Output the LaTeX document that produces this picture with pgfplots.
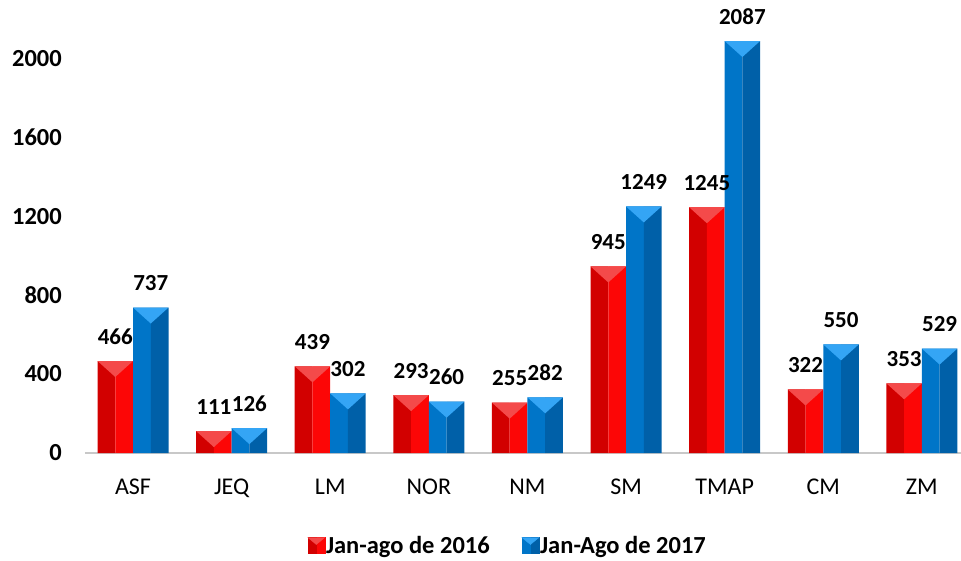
\documentclass[border=0pt]{standalone}
\usepackage{fontspec}
\setmainfont{Carlito}
\usepackage{pgfplots}
\usepackage{pgfplotstable}
\pgfplotsset{compat=1.18}
\definecolor{redL}{RGB}{210,0,0}
\definecolor{redR}{RGB}{252,6,6}
\definecolor{redT}{RGB}{244,74,74}
\definecolor{bluL}{RGB}{0,117,200}
\definecolor{bluR}{RGB}{0,96,168}
\definecolor{bluT}{RGB}{52,165,245}
\definecolor{axgray}{RGB}{200,200,200}
\pgfdeclareplotmark{bevtop}{%
  \pgfpathmoveto{\pgfqpoint{-17.75pt}{0pt}}%
  \pgfpathlineto{\pgfqpoint{17.75pt}{0pt}}%
  \pgfpathlineto{\pgfqpoint{0pt}{-16pt}}%
  \pgfpathclose\pgfusepathqfill}
\pgfplotstableread{
x a b
0 466 737
1 111 126
2 439 302
3 293 260
4 255 282
5 945 1249
6 1245 2087
7 322 550
8 353 529
}\data
\begin{document}
\begin{tikzpicture}
\useasboundingbox (-85pt,-107pt) rectangle (876pt,453pt);
\begin{axis}[
  scale only axis, width=876pt, height=434.3pt,
  xmin=-0.487, xmax=8.397, ymin=0, ymax=2200,
  clip=false,
  axis x line*=bottom, axis y line*=left,
  x axis line style={draw=axgray, line width=1.5pt, -},
  y axis line style={draw=none},
  major tick length=0pt,
  ytick={0,400,...,2000},
  xtick={0,...,8},
  xticklabels={ASF,JEQ,LM,NOR,NM,SM,TMAP,CM,ZM},
  /pgf/number format/assume math mode=true,
  /pgf/number format/1000 sep={},
  yticklabel style={font=\bfseries\fontsize{24.5}{27}\selectfont, anchor=east, inner sep=0pt, xshift=-23pt},
  xticklabel style={font=\fontsize{24}{27}\selectfont, anchor=base, inner sep=0pt, yshift=-41.5pt},
  ybar, bar width=17.75pt,
  legend style={draw=none, fill=none, at={(0.482,-0.213)}, anchor=center,
    legend columns=2, font=\bfseries\fontsize{24.5}{27}\selectfont,
    /tikz/every even column/.append style={column sep=31pt},
    nodes={inner sep=1pt}},
]
\addplot[forget plot, draw=none, fill=redL, bar shift=-26.625pt] table[x=x,y=a]{\data};
\addplot[forget plot, draw=none, fill=redR, bar shift=-8.875pt] table[x=x,y=a]{\data};
\addplot[forget plot, draw=none, fill=bluL, bar shift=8.875pt] table[x=x,y=b]{\data};
\addplot[forget plot, draw=none, fill=bluR, bar shift=26.625pt] table[x=x,y=b]{\data};
\addplot[forget plot, only marks, bar shift=0pt, mark=bevtop, mark options={fill=redT, draw=none},
  nodes near coords, every node near coord/.append style={font=\bfseries\fontsize{23}{26}\selectfont, anchor=base, inner sep=0pt, yshift=17pt}]
  table[x expr=\thisrow{x}-0.18, y=a]{\data};
\addplot[forget plot, only marks, bar shift=0pt, mark=bevtop, mark options={fill=bluT, draw=none},
  nodes near coords, every node near coord/.append style={font=\bfseries\fontsize{23}{26}\selectfont, anchor=base, inner sep=0pt, yshift=17pt}]
  table[x expr=\thisrow{x}+0.18, y=b]{\data};
\addlegendimage{legend image code/.code={
  \fill[redR] (0pt,-8pt) rectangle (17pt,8pt);
  \fill[redL] (0pt,-8pt) rectangle (8.5pt,8pt);
  \fill[redT] (0pt,8pt) -- (17pt,8pt) -- (8.5pt,1pt) -- cycle;}}
\addlegendentry{Jan-ago de 2016}
\addlegendimage{legend image code/.code={
  \fill[bluR] (0pt,-8pt) rectangle (17pt,8pt);
  \fill[bluL] (0pt,-8pt) rectangle (8.5pt,8pt);
  \fill[bluT] (0pt,8pt) -- (17pt,8pt) -- (8.5pt,1pt) -- cycle;}}
\addlegendentry{Jan-Ago de 2017}
\end{axis}
\end{tikzpicture}
\end{document}
